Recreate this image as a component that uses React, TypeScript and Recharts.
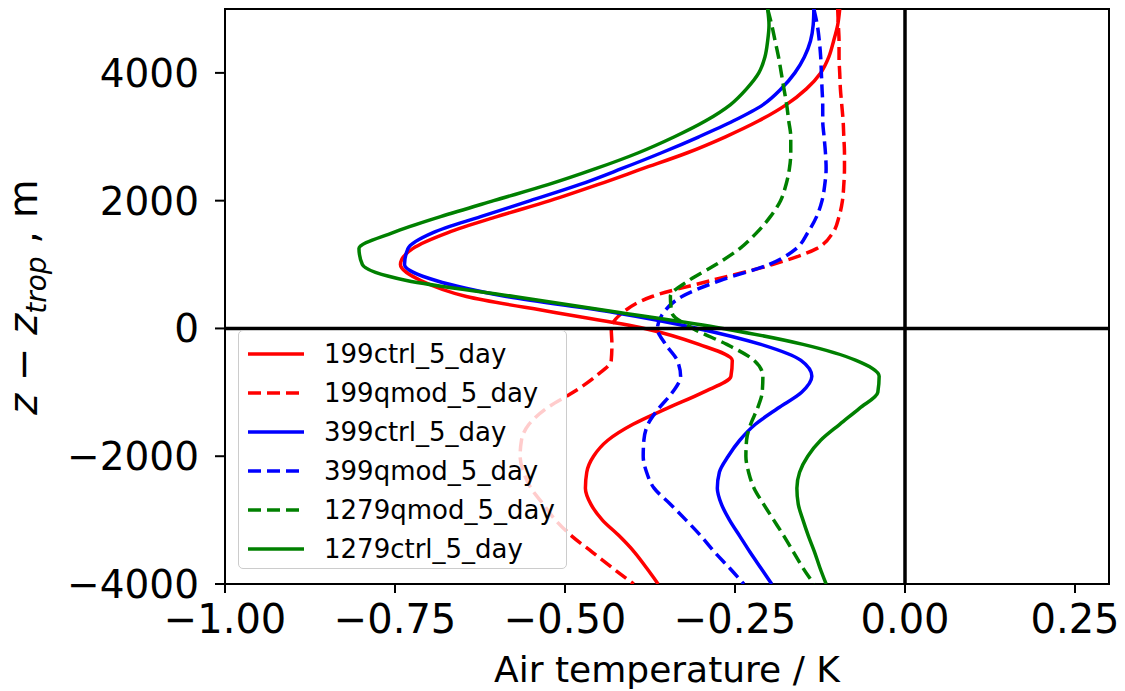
import { LineChart, Line, XAxis, YAxis, ReferenceLine, ReferenceArea, Legend } from "recharts";

// height relative to tropopause, m (top to bottom)
const heights = [
  5000, 4750, 4500, 4250, 4000, 3750, 3500, 3250, 3000, 2750, 2500, 2250, 2000, 1750, 1500, 1250, 1000, 750, 500, 250,
  0, -250, -500, -750, -1000, -1250, -1500, -1750, -2000, -2250, -2500, -2750, -3000, -3250, -3500, -3750, -4000,
];

// air temperature difference, K
const ctrl199 = [
  -0.096, -0.099, -0.105, -0.112, -0.124, -0.145, -0.175, -0.215, -0.264, -0.32, -0.386, -0.452, -0.522, -0.6, -0.672,
  -0.724, -0.742, -0.712, -0.645, -0.515, -0.383, -0.303, -0.254, -0.256, -0.297, -0.35, -0.4, -0.437, -0.458, -0.468,
  -0.47, -0.462, -0.445, -0.42, -0.398, -0.38, -0.363,
];
const qmod199 = [
  -0.099, -0.098, -0.097, -0.097, -0.096, -0.095, -0.093, -0.091, -0.09, -0.089, -0.089, -0.09, -0.092, -0.097, -0.106,
  -0.13, -0.195, -0.285, -0.372, -0.415, -0.432, -0.431, -0.432, -0.455, -0.488, -0.527, -0.553, -0.564, -0.566, -0.561,
  -0.55, -0.532, -0.514, -0.49, -0.46, -0.43, -0.399,
];
const ctrl399 = [
  -0.134, -0.135, -0.139, -0.148, -0.162, -0.182, -0.209, -0.252, -0.303, -0.358, -0.417, -0.479, -0.551, -0.624, -0.694,
  -0.731, -0.736, -0.69, -0.586, -0.428, -0.305, -0.212, -0.153, -0.137, -0.152, -0.187, -0.22, -0.243, -0.26, -0.273,
  -0.276, -0.27, -0.258, -0.243, -0.228, -0.212, -0.196,
];
const qmod399 = [
  -0.134, -0.129, -0.126, -0.124, -0.123, -0.122, -0.121, -0.121, -0.119, -0.117, -0.116, -0.118, -0.122, -0.13, -0.143,
  -0.16, -0.2, -0.272, -0.328, -0.355, -0.364, -0.352, -0.335, -0.33, -0.342, -0.362, -0.378, -0.384, -0.385, -0.38,
  -0.369, -0.345, -0.322, -0.3, -0.28, -0.258, -0.237,
];
const qmod1279 = [
  -0.202, -0.196, -0.191, -0.186, -0.182, -0.178, -0.174, -0.171, -0.168, -0.168, -0.17, -0.175, -0.183, -0.198, -0.218,
  -0.243, -0.278, -0.318, -0.345, -0.343, -0.312, -0.262, -0.222, -0.209, -0.21, -0.217, -0.227, -0.233, -0.234, -0.23,
  -0.222, -0.208, -0.193, -0.178, -0.164, -0.15, -0.134,
];
const ctrl1279 = [
  -0.202, -0.2, -0.202, -0.206, -0.215, -0.233, -0.257, -0.293, -0.339, -0.392, -0.455, -0.525, -0.605, -0.683, -0.753,
  -0.803, -0.798, -0.733, -0.575, -0.42, -0.268, -0.15, -0.072, -0.038, -0.04, -0.067, -0.096, -0.124, -0.143, -0.155,
  -0.159, -0.157, -0.15, -0.142, -0.133, -0.125, -0.116,
];

const xTicks = [-1, -0.75, -0.5, -0.25, 0, 0.25];
const yTicks = [-4000, -2000, 0, 2000, 4000];

const series = [
  { key: "ctrl199", name: "199ctrl_5_day", color: "#ff0000", dashed: false, values: ctrl199 },
  { key: "qmod199", name: "199qmod_5_day", color: "#ff0000", dashed: true, values: qmod199 },
  { key: "ctrl399", name: "399ctrl_5_day", color: "#0000ff", dashed: false, values: ctrl399 },
  { key: "qmod399", name: "399qmod_5_day", color: "#0000ff", dashed: true, values: qmod399 },
  { key: "qmod1279", name: "1279qmod_5_day", color: "#008000", dashed: true, values: qmod1279 },
  { key: "ctrl1279", name: "1279ctrl_5_day", color: "#008000", dashed: false, values: ctrl1279 },
];

const data = heights.map((z, i) => {
  const row: Record<string, number> = { z };
  series.forEach((s) => (row[s.key] = s.values[i]));
  return row;
});

const FONT = "DejaVu Sans, sans-serif";
const minus = (s: string) => s.replace("-", "\u2212");

function YLabel() {
  return (
    <text x={37} y={297} transform="rotate(-90 37 297)" textAnchor="middle" fontFamily={FONT} fontSize={40} fill="#000">
      <tspan fontStyle="italic">z</tspan>
      <tspan> {"\u2212"} </tspan>
      <tspan fontStyle="italic">z</tspan>
      <tspan fontStyle="italic" fontSize={28} dy={9}>trop</tspan>
      <tspan dy={-9}> , m</tspan>
    </text>
  );
}

function XLabel() {
  return (
    <text x={667} y={682} textAnchor="middle" fontFamily={FONT} fontSize={36} fill="#000">
      Air temperature / K
    </text>
  );
}

function LegendBox() {
  return (
    <div
      style={{
        width: 329,
        height: 239,
        boxSizing: "border-box",
        background: "rgba(255,255,255,0.8)",
        border: "1.5px solid #cccccc",
        borderRadius: 5,
        paddingTop: 4,
        fontFamily: FONT,
        fontSize: 26,
      }}
    >
      {series.map((s) => (
        <div key={s.key} style={{ display: "flex", alignItems: "center", height: 38.9 }}>
          <svg width={85} height={10} style={{ flex: "none" }}>
            <line
              x1={9}
              x2={65}
              y1={5}
              y2={5}
              stroke={s.color}
              strokeWidth={3.5}
              strokeDasharray={s.dashed ? "13 6" : undefined}
            />
          </svg>
          <span>{s.name}</span>
        </div>
      ))}
    </div>
  );
}

export default function App() {
  return (
    <div style={{ position: "absolute", left: 0, top: 0 }}>
      <LineChart
        width={1125}
        height={691}
        data={data}
        layout="vertical"
        margin={{ top: 9, right: 16, bottom: 0, left: 0 }}
      >
        <XAxis
          type="number"
          domain={[-1, 0.3]}
          ticks={xTicks}
          allowDataOverflow
          height={107}
          tickSize={9}
          tickMargin={12}
          tickFormatter={(v: number) => minus(v.toFixed(2))}
          tick={{ fontSize: 40, fontFamily: FONT, fill: "#000" }}
          axisLine={false}
          tickLine={{ stroke: "#000", strokeWidth: 2 }}
          label={<XLabel />}
        />
        <YAxis
          type="number"
          dataKey="z"
          domain={[-4000, 5000]}
          ticks={yTicks}
          reversed
          allowDataOverflow
          width={225}
          tickSize={10}
          tickMargin={16}
          tickFormatter={(v: number) => minus(String(v))}
          tick={{ fontSize: 39, fontFamily: FONT, fill: "#000" }}
          axisLine={false}
          tickLine={{ stroke: "#000", strokeWidth: 2 }}
          label={<YLabel />}
        />
        {series.map((s) => (
          <Line
            key={s.key}
            dataKey={s.key}
            name={s.name}
            type="monotone"
            stroke={s.color}
            strokeWidth={3.5}
            strokeDasharray={s.dashed ? "13 6" : undefined}
            dot={false}
            activeDot={false}
            isAnimationActive={false}
          />
        ))}
        <ReferenceLine x={0} stroke="#000" strokeWidth={3.5} />
        <ReferenceLine y={0} stroke="#000" strokeWidth={3.5} />
        <ReferenceArea x1={-1} x2={0.3} y1={-4000} y2={5000} fill="none" stroke="#000" strokeWidth={2} fillOpacity={0} />
        <Legend
          layout="horizontal"
          align="center"
          verticalAlign="middle"
          content={<LegendBox />}
          wrapperStyle={{ left: 238, top: 330, width: 329, height: 239 }}
        />
      </LineChart>
    </div>
  );
}
